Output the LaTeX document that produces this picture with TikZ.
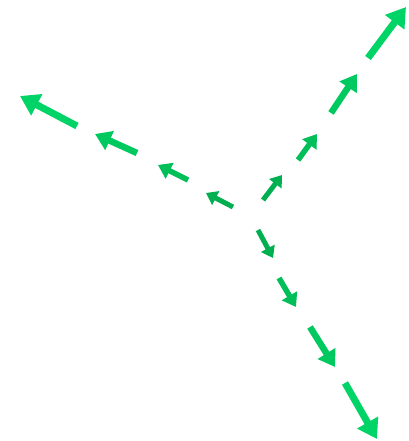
\documentclass[tikz,border=0pt]{standalone}
\usetikzlibrary{arrows.meta}

\definecolor{greenA}{HTML}{00B050}
\definecolor{greenB}{HTML}{00BE58}
\definecolor{greenC}{HTML}{00C95F}
\definecolor{greenD}{HTML}{00D466}

\begin{document}
\begin{tikzpicture}[
    x=1pt, y=-1pt,
    arrowone/.style={
        draw=greenA, line width=5pt,
        -{Triangle[length=11pt, width=15pt]}
    },
    arrowtwo/.style={
        draw=greenB, line width=5.5pt,
        -{Triangle[length=13pt, width=17pt]}
    },
    arrowthree/.style={
        draw=greenC, line width=6.5pt,
        -{Triangle[length=16pt, width=20pt]}
    },
    arrowfour/.style={
        draw=greenD, line width=7pt,
        -{Triangle[length=19pt, width=23pt]}
    }
]
\useasboundingbox (0,0) rectangle (408,441);

% left branch
\draw [arrowone]   (233,207) -- (206,193);
\draw [arrowtwo]   (188,180) -- (158,165);
\draw [arrowthree] (137,153) -- (95,134);
\draw [arrowfour]  (77,126) -- (20,96);

% upper branch
\draw [arrowone]   (263,200) -- (282,175);
\draw [arrowtwo]   (298,160) -- (317,134);
\draw [arrowthree] (331,113) -- (357,74);
\draw [arrowfour]  (368,58) -- (406,7);

% lower branch
\draw [arrowone]   (258,230) -- (273,258);
\draw [arrowtwo]   (279,278) -- (296,307);
\draw [arrowthree] (310,327) -- (335,367);
\draw [arrowfour]  (345,383) -- (377,439);

\end{tikzpicture}
\end{document}
